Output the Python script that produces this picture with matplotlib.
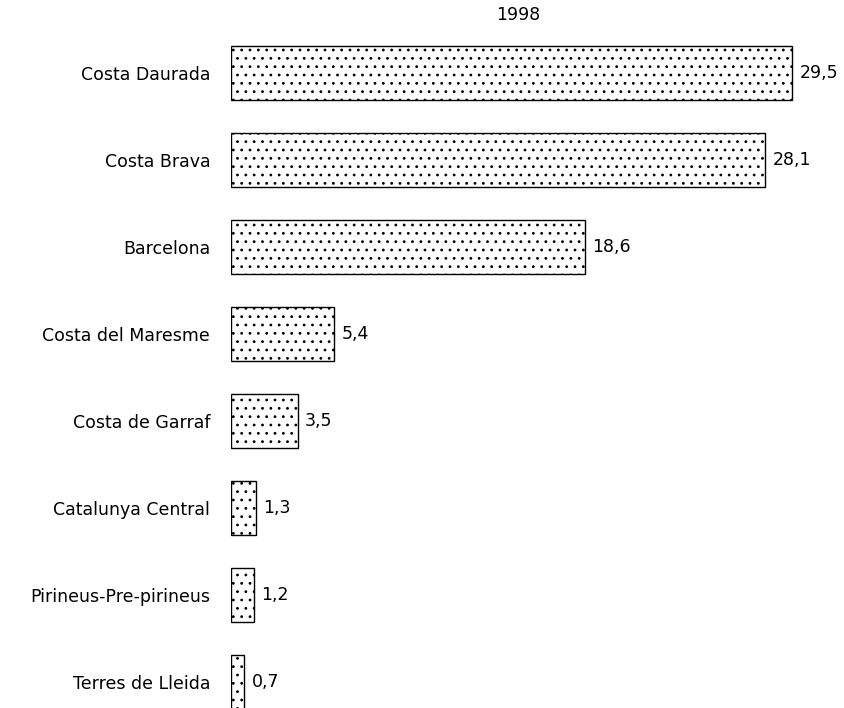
import matplotlib.pyplot as plt

plt.rcParams['font.family'] = ['DejaVu Sans']
plt.rcParams['hatch.linewidth'] = 0.8

categories = ['Costa Daurada', 'Costa Brava', 'Barcelona', 'Costa del Maresme',
              'Costa de Garraf', 'Catalunya Central', 'Pirineus-Pre-pirineus',
              'Terres de Lleida']
values = [29.5, 28.1, 18.6, 5.4, 3.5, 1.3, 1.2, 0.7]
value_labels = ['29,5', '28,1', '18,6', '5,4', '3,5', '1,3', '1,2', '0,7']
title = '1998'

fig = plt.figure(figsize=(8.44, 7.08), dpi=100)
ax = fig.add_axes([231 / 844, 0, 1 - 231 / 844, 1])

pos = list(range(len(categories)))
ax.barh(pos, values, height=0.62, color='white', edgecolor='black',
        linewidth=1.0, hatch='..')

for p, v, lab in zip(pos, values, value_labels):
    ax.text(v + 0.4, p, lab, va='center', ha='left', fontsize=12.5)

ax.set_yticks(pos)
ax.set_yticklabels(categories, fontsize=12.5)
ax.tick_params(axis='y', length=0, pad=15)
ax.set_xticks([])
ax.set_xlim(0, 613 / 19.02)
ax.set_ylim((708 - 73) / 87, -73 / 87)
for s in ax.spines.values():
    s.set_visible(False)

fig.text(518 / 844, 1 - 15 / 708, title, ha='center', va='center', fontsize=12.5)

fig.savefig('out.png', dpi=100)
